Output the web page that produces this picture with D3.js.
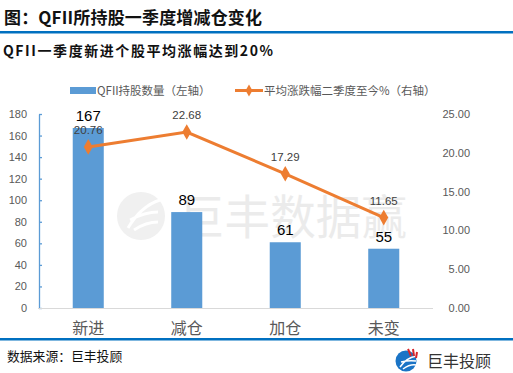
<!DOCTYPE html>
<html>
<head>
<meta charset="utf-8">
<script src="https://cdn.jsdelivr.net/npm/d3@7"></script>
<style>
  body { margin: 0; background: #fff; }
  svg { display: block; }
</style>
</head>
<body>
<div id="chart"></div>
<script>
var categories = ["新进", "减仓", "加仓", "未变"];
var holdCounts = [167, 89, 61, 55];
var avgChange = [20.76, 22.68, 17.29, 11.65];
var leftTicks = [0, 20, 40, 60, 80, 100, 120, 140, 160, 180];
var rightTicks = [0, 5, 10, 15, 20, 25];

var W = 513, H = 373;
var plot = { left: 39, right: 433, top: 114, bottom: 308 };
var blue = "#5b9bd5", orange = "#ed7d31", rule = "#0070c0";
var cjk = "'Noto Sans CJK SC', 'Noto Sans', sans-serif";

var svg = d3.select("#chart").append("svg")
  .attr("width", W).attr("height", H)
  .style("font-family", cjk);

// header
svg.append("text").attr("x", 4).attr("y", 24)
  .attr("textLength", 258).attr("lengthAdjust", "spacing")
  .text("图：QFII所持股一季度增减仓变化")
  .style("font-size", "17px").style("font-weight", "bold").style("fill", "#111");
svg.append("rect").attr("x", 0).attr("y", 31).attr("width", W).attr("height", 2.5).style("fill", rule);
svg.append("text").attr("x", 3).attr("y", 56)
  .attr("textLength", 270).attr("lengthAdjust", "spacing")
  .text("QFII一季度新进个股平均涨幅达到20%")
  .style("font-size", "14px").style("font-weight", "bold").style("fill", "#111");

// watermark
var wm = svg.append("g").style("opacity", 0.55);
wm.append("circle").attr("cx", 141).attr("cy", 216).attr("r", 24).style("fill", "#e4e4e4");
wm.append("path").attr("d", "M128,228 Q141,206 160,200 M130,220 Q145,212 158,212 M134,230 Q146,222 158,222")
  .style("fill", "none").style("stroke", "#fff").style("stroke-width", 3);
wm.append("text").attr("x", 179).attr("y", 234)
  .attr("textLength", 228).attr("lengthAdjust", "spacingAndGlyphs")
  .text("巨丰数据赢")
  .style("font-size", "47px").style("fill", "#dcdcdc");

var x = d3.scaleBand().domain(categories)
  .range([plot.left, plot.right]).paddingInner(0.685).paddingOuter(0.3425);
var yL = d3.scaleLinear().domain([0, 180]).range([plot.bottom, plot.top]);
var yR = d3.scaleLinear().domain([0, 25]).range([plot.bottom, plot.top]);

// bars
svg.selectAll("rect.bar").data(categories).enter().append("rect")
  .attr("class", "bar")
  .attr("x", function (d) { return x(d); })
  .attr("width", x.bandwidth())
  .attr("y", function (d, i) { return yL(holdCounts[i]); })
  .attr("height", function (d, i) { return plot.bottom - yL(holdCounts[i]); })
  .style("fill", blue);

// axes
var gL = svg.append("g").attr("transform", "translate(" + plot.left + ",0)")
  .call(d3.axisRight(yL).tickValues(leftTicks).tickSize(3).tickSizeOuter(0).tickFormat(""));
gL.selectAll("line, path").style("stroke", blue).style("stroke-width", 1.3);
svg.selectAll("text.lt").data(leftTicks).enter().append("text")
  .attr("class", "lt").attr("x", 27).attr("y", function (d) { return yL(d) + 4; })
  .attr("text-anchor", "end").text(function (d) { return d; })
  .style("font-size", "11px").style("fill", "#595959").style("font-family", "'Liberation Sans', sans-serif");

svg.selectAll("text.rt").data(rightTicks).enter().append("text")
  .attr("class", "rt").attr("x", 470).attr("y", function (d) { return yR(d) + 4; })
  .attr("text-anchor", "end").text(function (d) { return d3.format(".2f")(d); })
  .style("font-size", "11px").style("fill", "#595959").style("font-family", "'Liberation Sans', sans-serif");

svg.append("line").attr("x1", plot.left - 1).attr("x2", plot.right)
  .attr("y1", plot.bottom + 0.5).attr("y2", plot.bottom + 0.5)
  .style("stroke", "#d9d9d9").style("stroke-width", 1.2);

svg.selectAll("text.cat").data(categories).enter().append("text")
  .attr("class", "cat").attr("x", function (d) { return x(d) + x.bandwidth() / 2; })
  .attr("y", 334).attr("text-anchor", "middle").text(function (d) { return d; })
  .style("font-size", "16px").style("fill", "#595959");

// line
var pts = categories.map(function (c, i) { return [x(c) + x.bandwidth() / 2, yR(avgChange[i])]; });
svg.append("path").attr("d", d3.line()(pts))
  .style("fill", "none").style("stroke", orange).style("stroke-width", 3);
svg.selectAll("path.mk").data(pts).enter().append("path")
  .attr("class", "mk")
  .attr("transform", function (d) { return "translate(" + d[0] + "," + d[1] + ")"; })
  .attr("d", d3.symbol().type(d3.symbolDiamond).size(70))
  .style("fill", orange);

// labels
svg.selectAll("text.bl").data(categories).enter().append("text")
  .attr("class", "bl").attr("x", function (d) { return x(d) + x.bandwidth() / 2; })
  .attr("y", function (d, i) { return yL(holdCounts[i]) - 7; })
  .attr("text-anchor", "middle").text(function (d, i) { return holdCounts[i]; })
  .style("font-size", "15px").style("fill", "#000").style("font-family", "'Liberation Sans', sans-serif");

svg.selectAll("text.ll").data(pts).enter().append("text")
  .attr("class", "ll").attr("x", function (d) { return d[0]; })
  .attr("y", function (d) { return d[1] - 13; })
  .attr("text-anchor", "middle").text(function (d, i) { return avgChange[i].toFixed(2); })
  .style("font-size", "11.5px").style("fill", "#404040").style("font-family", "'Liberation Sans', sans-serif");

// legend
var lg = svg.append("g");
lg.append("rect").attr("x", 70).attr("y", 87).attr("width", 26).attr("height", 7).style("fill", blue);
lg.append("text").attr("x", 97).attr("y", 95).text("QFII持股数量（左轴）")
  .style("font-size", "11.5px").style("fill", "#595959");
lg.append("line").attr("x1", 235).attr("x2", 263).attr("y1", 90.5).attr("y2", 90.5)
  .style("stroke", orange).style("stroke-width", 3);
lg.append("path").attr("transform", "translate(249,90.5)")
  .attr("d", d3.symbol().type(d3.symbolDiamond).size(40)).style("fill", orange);
lg.append("text").attr("x", 264).attr("y", 95).text("平均涨跌幅二季度至今%（右轴）")
  .style("font-size", "11.5px").style("fill", "#595959");

// footer
svg.append("rect").attr("x", 0).attr("y", 338).attr("width", W).attr("height", 2.5).style("fill", rule);
svg.append("text").attr("x", 7).attr("y", 361).text("数据来源：巨丰投顾")
  .style("font-size", "12.8px").style("fill", "#111");
var logo = svg.append("g").attr("transform", "translate(406,361)");
logo.append("circle").attr("r", 10.5).style("fill", "#1a74c6");
logo.append("path").attr("d", "M-6,6 Q0,-3 10,-5 M-5,1 Q3,-1 10,0 M-3,8 Q4,3 10,4")
  .style("fill", "none").style("stroke", "#fff").style("stroke-width", 1.5);
logo.append("path").attr("d", "M2,-12 L5,-5 M7,-12 L8,-5 M11,-9 L10,-3")
  .style("stroke", "#d7262b").style("stroke-width", 2);
svg.append("text").attr("x", 427).attr("y", 367).text("巨丰投顾")
  .style("font-size", "16px").style("fill", "#333");
</script>
</body>
</html>
